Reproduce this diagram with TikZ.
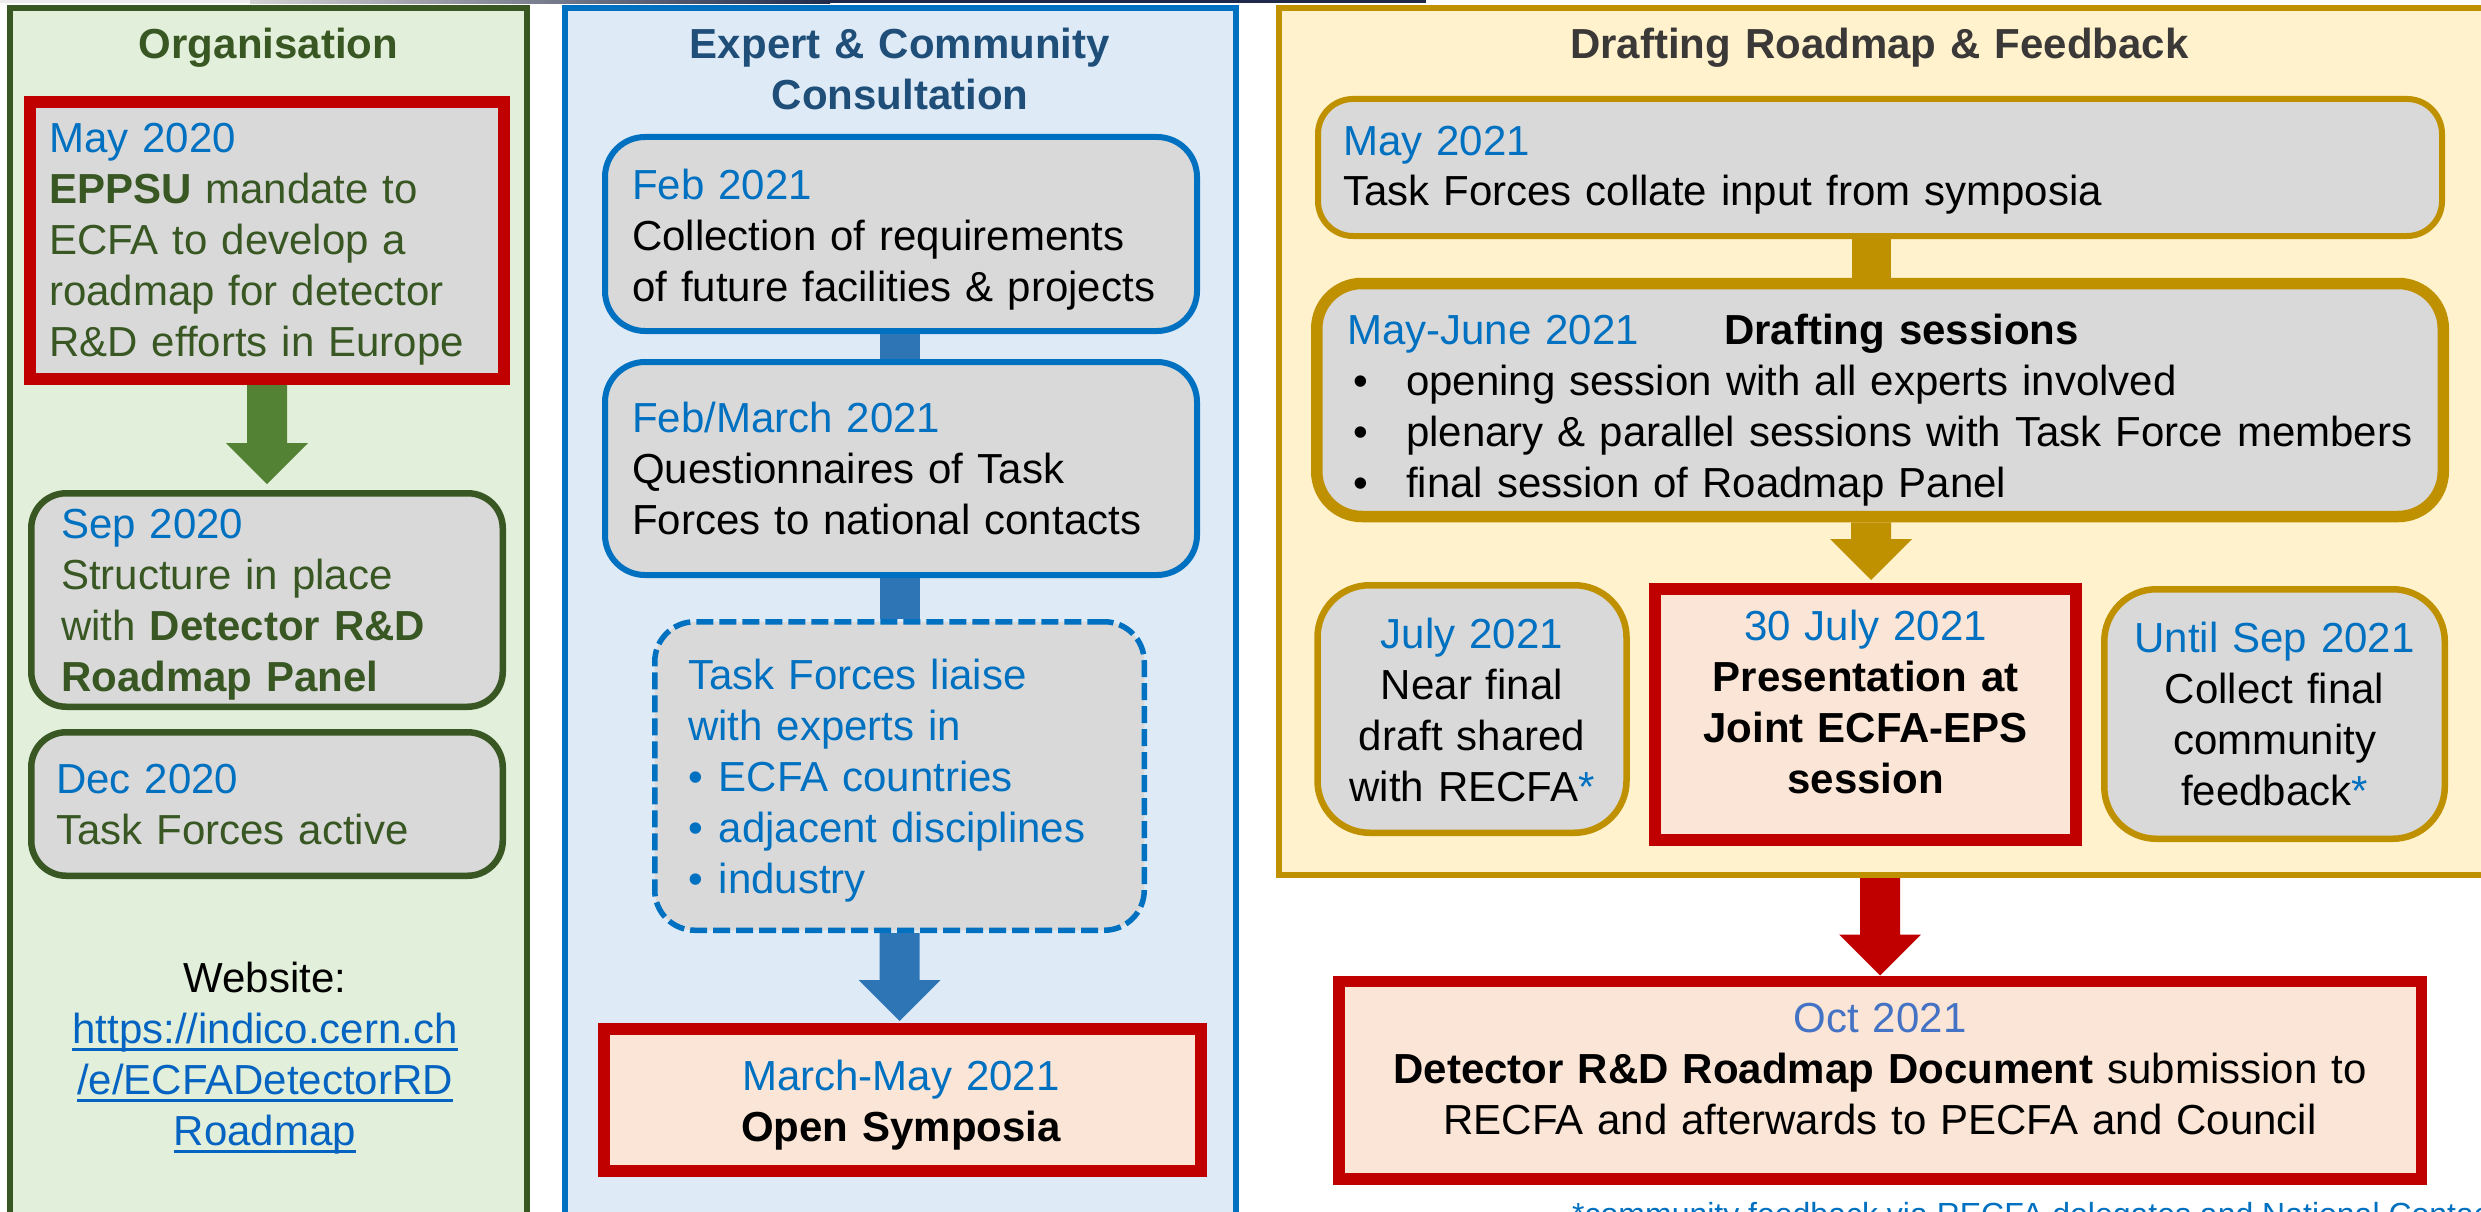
\documentclass[tikz,border=0pt]{standalone}
\usepackage{fontspec}
\setmainfont{Liberation Sans}
\usetikzlibrary{calc}
\definecolor{gfill}{HTML}{E2EFDA}
\definecolor{gline}{HTML}{385723}
\definecolor{garrow}{HTML}{548235}
\definecolor{bfill}{HTML}{DEEBF7}
\definecolor{bline}{HTML}{0070C0}
\definecolor{bbar}{HTML}{2E75B6}
\definecolor{btitle}{HTML}{1F4E79}
\definecolor{boxgray}{HTML}{D9D9D9}
\definecolor{rline}{HTML}{C00000}
\definecolor{pinkfill}{HTML}{FBE5D6}
\definecolor{yfill}{HTML}{FFF2CC}
\definecolor{yline}{HTML}{BF9000}
\definecolor{ytitle}{HTML}{3B3838}
\definecolor{linkblue}{HTML}{0563C1}
\definecolor{octblue}{HTML}{4472C4}
\definecolor{datecol}{HTML}{0070C0}
\definecolor{navystrip}{HTML}{1F2A4A}
\newcommand{\blockarrow}[3]{%
  \fill[#1] ($(#2)+(-20,0)$) -- ($(#2)+(20,0)$) -- ($(#3)+(20,-41)$) -- ($(#3)+(41,-41)$)
    -- (#3) -- ($(#3)+(-41,-41)$) -- ($(#3)+(-20,-41)$) -- cycle;}
\newcommand{\myuline}[1]{\leavevmode\setbox0\hbox{#1}\rlap{\rule[-8pt]{\wd0}{3.5pt}}\box0}
\begin{document}
\begin{tikzpicture}[x=1pt,y=-1pt,
  panel/.style={draw, line width=6pt, inner sep=0pt},
  box/.style={draw, line width=6.5pt, fill=boxgray, inner sep=0pt},
  txt/.style={inner sep=0pt, font=\fontsize{42}{51}\selectfont, text width=#1},
  txt/.default=1100pt,
  lt/.style={txt=1000pt, align=left, anchor=base west},
  ct/.style={txt=#1, align=center, anchor=base},
  ct/.default=600pt]
\useasboundingbox (0,0) rectangle (2481,1212);
\clip (0,0) rectangle (2481,1212);
\fill[white] (0,0) rectangle (2481,1212);
% thin strip at top
\fill[gray!15] (0,0) rectangle (250,3.5);
\shade[left color=gray!35, right color=navystrip] (250,0) rectangle (830,3.5);
\fill[navystrip] (830,0) rectangle (1426,3.5);

% panels
\node[panel, draw=gline, fill=gfill, minimum width=517pt, minimum height=1301.5pt] (orgpanel) at (268.5,659.25) {};
\node[panel, draw=bline, fill=bfill, minimum width=670.5pt, minimum height=1301.5pt] (conspanel) at (900.25,659.25) {};
\node[panel, draw=yline, fill=yfill, minimum width=1221pt, minimum height=866.5pt] (draftpanel) at (1889.5,441.75) {};

% titles
\node[ct=480pt, text=gline] (torg) at (268.5,59) {\textbf{Organisation}};
\node[ct=620pt, text=btitle] (tcons) at (900,59) {\textbf{Expert \& Community}\\\textbf{Consultation}};
\node[ct=1000pt, text=ytitle] (tdraft) at (1879.5,59) {\textbf{Drafting Roadmap \& Feedback}};

% boxes
\node[box, draw=rline, line width=12pt, minimum width=474pt, minimum height=277pt] (may20) at (267,240.5) {};
\node[box, draw=gline, rounded corners=35pt, minimum width=471.5pt, minimum height=213.5pt] (sep20) at (267,600) {};
\node[box, draw=gline, rounded corners=35pt, minimum width=471.5pt, minimum height=143.5pt] (dec20) at (267,804) {};
\node[box, draw=bline, line width=6pt, rounded corners=40pt, minimum width=592pt, minimum height=194pt] (feb21) at (901,234) {};
\node[box, draw=bline, line width=6pt, rounded corners=40pt, minimum width=592pt, minimum height=213pt] (febm21) at (901,468.5) {};
\node[box, draw=bline, line width=5.5pt, dash pattern=on 17pt off 6pt, rounded corners=40pt, minimum width=489.5pt, minimum height=308.5pt] (liaise) at (899.5,776) {};
\node[box, draw=rline, fill=pinkfill, line width=12pt, minimum width=597pt, minimum height=142pt] (sympo) at (902.5,1100) {};
\node[box, draw=yline, line width=6pt, rounded corners=35pt, minimum width=1124pt, minimum height=137pt] (may21) at (1880,167.5) {};
\node[box, draw=yline, line width=11.5pt, rounded corners=45pt, minimum width=1126.5pt, minimum height=233pt] (drafting) at (1880,400) {};
\node[box, draw=yline, rounded corners=52pt, minimum width=309pt, minimum height=247.5pt] (july21) at (1472,709) {};
\node[box, draw=rline, fill=pinkfill, line width=12pt, minimum width=421pt, minimum height=251pt] (pres) at (1865.5,714.5) {};
\node[box, draw=yline, rounded corners=52pt, minimum width=340.5pt, minimum height=249.5pt] (until21) at (2274.5,714) {};
\node[box, draw=rline, fill=pinkfill, line width=11.5pt, minimum width=1082.5pt, minimum height=197.5pt] (oct21) at (1880,1080) {};

% connectors (bars)
\draw[bbar, line width=40pt] (liaise.north |- feb21.south) -- (liaise.north |- febm21.north);
\draw[bbar, line width=40pt] (liaise.north |- febm21.south) -- (liaise.north);
\draw[yline, line width=39pt] ($(may21.south)+(-9,0)$) -- ($(drafting.north)+(-9,0)$);

% block arrows
\coordinate (gtip) at ($(sep20.north)+(0,-6)$);
\blockarrow{garrow}{may20.south}{gtip}
\coordinate (btip) at ($(liaise.south |- sympo.north)+(0,-2)$);
\blockarrow{bbar}{liaise.south}{btip}
\coordinate (ystart) at ($(drafting.south)+(-9,0)$);
\coordinate (ytip) at ($(drafting.south |- pres.north)+(-9,-3)$);
\blockarrow{yline}{ystart}{ytip}
\coordinate (rstart) at (oct21.north |- draftpanel.south);
\blockarrow{rline}{rstart}{oct21.north}

% texts: organisation
\node[lt, txt=440pt, text=gline] (tmay20) at (49,153) {\textcolor{datecol}{May 2020}\\\textbf{EPPSU} mandate to\\ECFA to develop a\\roadmap for detector\\R\&D efforts in Europe};
\node[lt, txt=430pt, text=gline] (tsep20) at (61,538) {\textcolor{datecol}{Sep 2020}\\Structure in place\\with \textbf{Detector R\&D}\\\textbf{Roadmap Panel}};
\node[lt, txt=430pt, text=gline] (tdec20) at (56,793) {\textcolor{datecol}{Dec 2020}\\Task Forces active};
\node[ct=470pt] (tweb) at (265,992) {Website:\\\textcolor{linkblue}{\myuline{https://indico.cern.ch}}\\\textcolor{linkblue}{\myuline{/e/ECFADetectorRD}}\\\textcolor{linkblue}{\myuline{Roadmap}}};

% texts: consultation
\node[lt, txt=560pt] (tfeb21) at (632,199) {\textcolor{datecol}{Feb 2021}\\Collection of requirements\\of future facilities \& projects};
\node[lt, txt=560pt] (tfebm21) at (632,432) {\textcolor{datecol}{Feb/March 2021}\\Questionnaires of Task\\Forces to national contacts};
\node[lt, txt=440pt, text=datecol] (tliaise) at (688,689) {Task Forces liaise\\with experts in\\\makebox[30.5pt][l]{\textbullet}ECFA countries\\\makebox[30.5pt][l]{\textbullet}adjacent disciplines\\\makebox[30.5pt][l]{\textbullet}industry};
\node[ct=570pt] (tsympo) at (901,1090) {\textcolor{datecol}{March-May 2021}\\\textbf{Open Symposia}};

% texts: drafting
\node[lt, txt=1080pt] (tmay21) at (1343,155) {\textcolor{datecol}{May 2021}\\Task Forces collate input from symposia};
\node[lt, txt=1080pt] (tdrafting) at (1347,344) {\makebox[377pt][l]{\textcolor{datecol}{May-June 2021}}\textbf{Drafting sessions}\\
\hspace*{6pt}\makebox[53pt][l]{\textbullet}opening session with all experts involved\\
\hspace*{6pt}\makebox[53pt][l]{\textbullet}plenary \& parallel sessions with Task Force members\\
\hspace*{6pt}\makebox[53pt][l]{\textbullet}final session of Roadmap Panel};
\node[ct=280pt] (tjuly21) at (1472,648) {\textcolor{datecol}{July 2021}\\Near final\\draft shared\\with RECFA\textcolor{datecol}{*}};
\node[ct=395pt] (tpres) at (1865.5,640) {\textcolor{datecol}{30 July 2021}\\\textbf{Presentation at}\\\textbf{Joint ECFA-EPS}\\\textbf{session}};
\node[ct=320pt] (tuntil21) at (2274.5,652) {\textcolor{datecol}{Until Sep 2021}\\Collect final\\community\\feedback\textcolor{datecol}{*}};
\node[ct=1050pt] (toct21) at (1880,1032.5) {\textcolor{octblue}{Oct 2021}\\\textbf{Detector R\&D Roadmap Document} submission to\\RECFA and afterwards to PECFA and Council};

% footnote
\node[anchor=base west, inner sep=0pt, font=\fontsize{32}{38}\selectfont, text=datecol] (tfoot) at (1572,1225) {*community feedback via RECFA delegates and National Contacts};
\end{tikzpicture}
\end{document}
